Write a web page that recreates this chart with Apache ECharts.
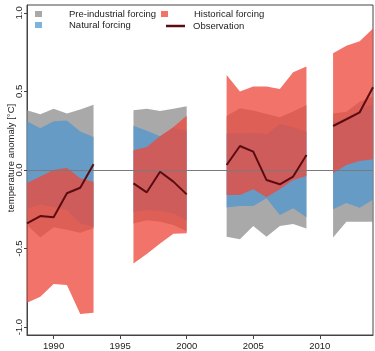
<!DOCTYPE html>
<html>
<head>
<meta charset="utf-8">
<script src="https://cdn.jsdelivr.net/npm/echarts@6/dist/echarts.min.js"></script>
<style>
  html, body { margin: 0; padding: 0; background: #fff; }
  #chart { width: 375px; height: 351px; }
</style>
</head>
<body>
<div id="chart"></div>
<script>
// years with simulations, four separate runs of years
var years = [1988, 1989, 1990, 1991, 1992, 1993,
             1996, 1997, 1998, 1999, 2000,
             2003, 2004, 2005, 2006, 2007, 2008, 2009,
             2011, 2012, 2013, 2014];

// pre-industrial forcing range
var preHi = [0.38, 0.355, 0.39, 0.36, 0.385, 0.415,
             0.38, 0.39, 0.375, 0.39, 0.405,
             0.344, 0.393, 0.378, 0.357, 0.336, 0.372, 0.414,
             0.36, 0.37, 0.435, 0.47];
var preLo = [-0.35, -0.43, -0.365, -0.38, -0.40, -0.37,
             -0.34, -0.32, -0.33, -0.35, -0.39,
             -0.425, -0.44, -0.357, -0.425, -0.357, -0.344, -0.372,
             -0.43, -0.33, -0.33, -0.33];

// natural forcing range
var natHi = [0.31, 0.265, 0.31, 0.315, 0.245, 0.21,
             0.282, 0.25, 0.215, 0.265, 0.25,
             0.233, 0.233, 0.235, 0.227, 0.293, 0.272, 0.244,
             0.308, 0.308, 0.382, 0.42];
var natLo = [-0.245, -0.22, -0.235, -0.255, -0.34, -0.36,
             -0.265, -0.255, -0.26, -0.276, -0.32,
             -0.238, -0.229, -0.229, -0.18, -0.287, -0.244, -0.30,
             -0.25, -0.21, -0.24, -0.19];

// historical forcing range
var histHi = [-0.083, -0.042, 0.0, 0.015, -0.053, -0.074,
              0.125, 0.146, 0.215, 0.274, 0.345,
              0.605, 0.499, 0.531, 0.531, 0.516, 0.622, 0.658,
              0.743, 0.79, 0.82, 0.9];
var histLo = [-0.845, -0.807, -0.726, -0.732, -0.917, -0.909,
              -0.595, -0.535, -0.467, -0.405, -0.403,
              -0.159, -0.159, -0.123, -0.174, -0.123, -0.064, -0.038,
              -0.021, 0.032, 0.057, 0.068];

// observation
var obs = [-0.34, -0.293, -0.301, -0.148, -0.113, 0.036,
           -0.085, -0.142, -0.011, -0.074, -0.155,
           0.032, 0.153, 0.117, -0.064, -0.091, -0.042, 0.096,
           0.28, 0.323, 0.367, 0.527];

var xTicks = [1990, 1995, 2000, 2005, 2010];
var yTicks = [-1.0, -0.5, 0.0, 0.5, 1.0];

// split into runs of consecutive years
var segments = [];
var start = 0;
for (var i = 1; i <= years.length; i++) {
    if (i == years.length || years[i] - years[i - 1] > 1) {
        segments.push([start, i - 1]);
        start = i;
    }
}

function band(name, lo, hi, color) {
    return {
        type: 'custom',
        name: name,
        itemStyle: { color: color },
        encode: { x: 0, y: 1 },
        data: segments.map(function (s) { return [years[s[0]], lo[s[0]]]; }),
        renderItem: function (params, api) {
            var s = segments[params.dataIndex];
            var pts = [];
            for (var k = s[0]; k <= s[1]; k++) pts.push(api.coord([years[k], hi[k]]));
            for (var k = s[1]; k >= s[0]; k--) pts.push(api.coord([years[k], lo[k]]));
            return { type: 'polygon', shape: { points: pts }, style: { fill: color } };
        }
    };
}

var obsData = [];
for (var i = 0; i < years.length; i++) {
    obsData.push([years[i], obs[i]]);
    if (i < years.length - 1 && years[i + 1] - years[i] > 1) obsData.push([years[i] + 1, null]);
}

var font = 'Liberation Sans, Arial, sans-serif';
var grayC = 'rgba(140,140,140,0.75)';
var blueC = 'rgba(76,149,208,0.72)';
var redC = 'rgba(238,73,60,0.77)';
var obsC = '#5a0c12';

function legendAt(left, top, name, icon, w, h, pad) {
    return {
        left: left, top: top, padding: 0, itemGap: 0,
        itemWidth: w, itemHeight: h, selectedMode: false,
        data: [{ name: name, icon: icon }],
        textStyle: { fontFamily: font, fontSize: 9.5, color: '#222', padding: [0, 0, 0, pad] }
    };
}

var chart = echarts.init(document.getElementById('chart'));
chart.setOption({
    animation: false,
    legend: [
        legendAt(35, 9, 'Pre-industrial forcing', 'rect', 7, 6, 22),
        legendAt(35, 20, 'Natural forcing', 'rect', 7, 6, 22),
        legendAt(161, 9, 'Historical forcing', 'rect', 7, 6, 21),
        legendAt(166, 21, 'Observation', 'rect', 19, 2.5, 3)
    ],
    grid: {
        left: 27, right: 2, top: 5, bottom: 16, outerBoundsMode: 'none',
        show: true, borderColor: '#444', borderWidth: 1
    },
    xAxis: {
        type: 'value', min: 1988, max: 2014,
        axisLine: { show: true, onZero: false, lineStyle: { color: '#444' } },
        axisTick: { show: true, customValues: xTicks, length: 4, lineStyle: { color: '#444' } },
        axisLabel: {
            customValues: xTicks, margin: 6, fontFamily: font, fontSize: 9.5, color: '#222',
            formatter: function (v) { return String(v); }
        },
        splitLine: { show: false }
    },
    yAxis: {
        type: 'value', min: -1.05, max: 1.05,
        name: 'temperature anomaly [°C]', nameLocation: 'middle', nameGap: 11,
        nameMoveOverlap: false,
        nameTextStyle: { fontFamily: font, fontSize: 9.5, color: '#222', padding: [0, 0, 0, 24] },
        axisLine: { show: true, onZero: false, lineStyle: { color: '#444' } },
        axisTick: { show: true, customValues: yTicks, length: 3, lineStyle: { color: '#444' } },
        axisLabel: {
            customValues: yTicks, rotate: 90, margin: 3, fontFamily: font, fontSize: 9.5, color: '#222',
            formatter: function (v) { return v.toFixed(1); }
        },
        splitLine: { show: false }
    },
    series: [
        band('Pre-industrial forcing', preLo, preHi, grayC),
        band('Natural forcing', natLo, natHi, blueC),
        band('Historical forcing', histLo, histHi, redC),
        {
            type: 'line', name: 'Observation', data: obsData,
            symbol: 'none', connectNulls: false,
            itemStyle: { color: obsC },
            lineStyle: { color: obsC, width: 2 },
            markLine: {
                silent: true, symbol: ['none', 'none'], label: { show: false },
                lineStyle: { color: '#7a7a7a', width: 1.2, type: 'solid' },
                data: [{ yAxis: 0 }]
            },
            z: 5
        }
    ]
});
</script>
</body>
</html>
